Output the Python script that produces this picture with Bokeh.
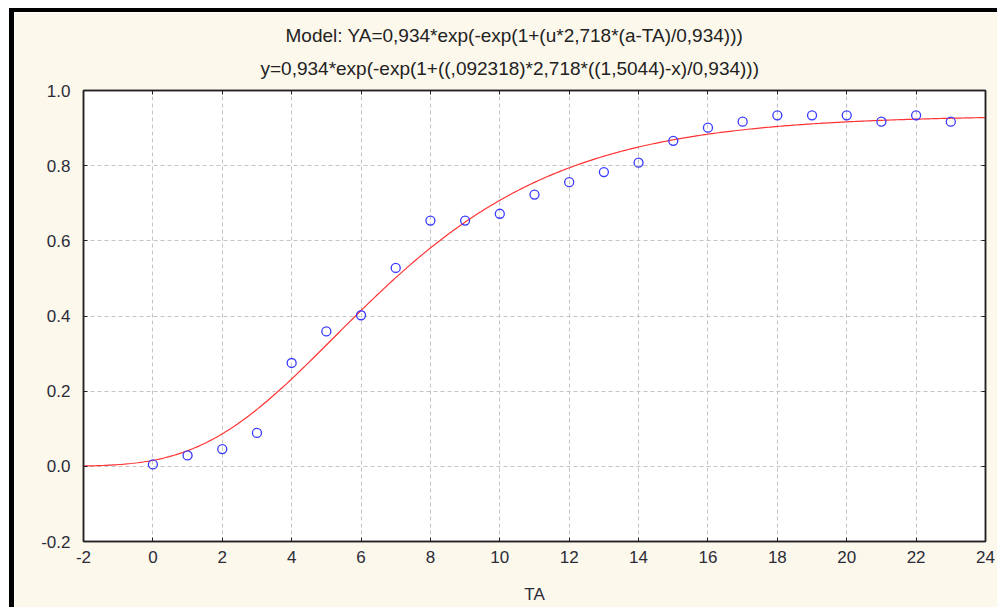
import numpy as np
from bokeh.plotting import figure
from bokeh.models import Range1d, LinearAxis, Title, FixedTicker, PrintfTickFormatter
from bokeh.embed import file_html
from bokeh.resources import INLINE

# ---- data ----
ta = [0, 1, 2, 3, 4, 5, 6, 7, 8, 9, 10, 11, 12, 13, 14, 15, 16, 17, 18, 19, 20, 21, 22, 23]
ya = [0.005, 0.029, 0.046, 0.089, 0.275, 0.359, 0.402, 0.528, 0.654, 0.654, 0.672, 0.723,
      0.756, 0.783, 0.808, 0.866, 0.901, 0.917, 0.934, 0.934, 0.934, 0.917, 0.934, 0.917]
# fitted model parameters shown in the chart title
model_A = 0.934
model_u = 0.092318
model_a = 1.5044
model_e = 2.718
x_ticks = [-2, 0, 2, 4, 6, 8, 10, 12, 14, 16, 18, 20, 22, 24]
y_ticks = [-0.2, 0.0, 0.2, 0.4, 0.6, 0.8, 1.0]
title1 = "Model: YA=0,934*exp(-exp(1+(u*2,718*(a-TA)/0,934)))"
title2 = "y=0,934*exp(-exp(1+((,092318)*2,718*((1,5044)-x)/0,934)))"

cx = np.linspace(-2, 24, 400)
cy = model_A * np.exp(-np.exp(1 + (model_u * model_e * (model_a - cx) / model_A)))

CREAM = "#fdf8ec"
FONT = "Liberation Sans"
TXT = "#2b2b38"

p = figure(width=988, height=599, output_backend="svg", toolbar_location=None, title=None,
           x_range=Range1d(-2, 24), y_range=Range1d(-0.2, 1.0),
           x_axis_location=None, y_axis_location=None,
           min_border_left=69, min_border_right=17, min_border_top=78, min_border_bottom=70)
p.styles = {"margin-left": "9px", "margin-top": "8px",
            "border-left": "5px solid black", "border-top": "4px solid black"}
p.border_fill_color = CREAM
p.background_fill_color = "white"
p.outline_line_color = "#222222"
p.outline_line_width = 1.5

def mk_axis(loc, labels):
    horiz = loc in ("below", "above")
    ax = LinearAxis(ticker=FixedTicker(ticks=x_ticks if horiz else y_ticks),
                    formatter=PrintfTickFormatter(format="%d" if horiz else "%.1f"))
    ax.axis_line_color = "#222222"
    ax.axis_line_width = 1.5
    ax.major_tick_in = 4
    ax.major_tick_out = 0
    ax.major_tick_line_color = "#222222"
    ax.minor_tick_line_color = None
    ax.major_label_text_font = FONT
    ax.major_label_text_font_size = "17px"
    ax.major_label_text_color = TXT
    if not labels:
        ax.major_label_text_font_size = "0px"
        ax.major_label_text_color = None
        ax.major_label_standoff = 0
    return ax

bx = mk_axis("below", True)
bx.axis_label = "TA"
bx.axis_label_text_font = FONT
bx.axis_label_text_font_size = "17px"
bx.axis_label_text_font_style = "normal"
bx.axis_label_text_color = TXT
bx.major_label_standoff = 9
bx.axis_label_standoff = 19
ly = mk_axis("left", True)
ly.major_label_standoff = 13
p.add_layout(bx, "below")
p.add_layout(ly, "left")
p.add_layout(mk_axis("above", False), "above")
p.add_layout(mk_axis("right", False), "right")

p.xgrid.ticker = FixedTicker(ticks=x_ticks)
p.ygrid.ticker = FixedTicker(ticks=y_ticks)
for g in (p.xgrid, p.ygrid):
    g.grid_line_color = "#c4c4c4"
    g.grid_line_dash = "4 3"
    g.grid_line_width = 1

p.line(cx, cy, line_color="#ff3333", line_width=1.2)
p.scatter(ta, ya, marker="circle", size=9, fill_color=None, line_color="#3a3aff", line_width=1.3)

for txt, so, off in ((title2, 24, 177), (title1, -4, 202)):
    p.add_layout(Title(text=txt, align="left", offset=off, text_font=FONT, text_font_size="19px",
                       text_font_style="normal", text_color="#222222", standoff=so), "above")

open("out.html", "w").write(file_html(p, INLINE))
